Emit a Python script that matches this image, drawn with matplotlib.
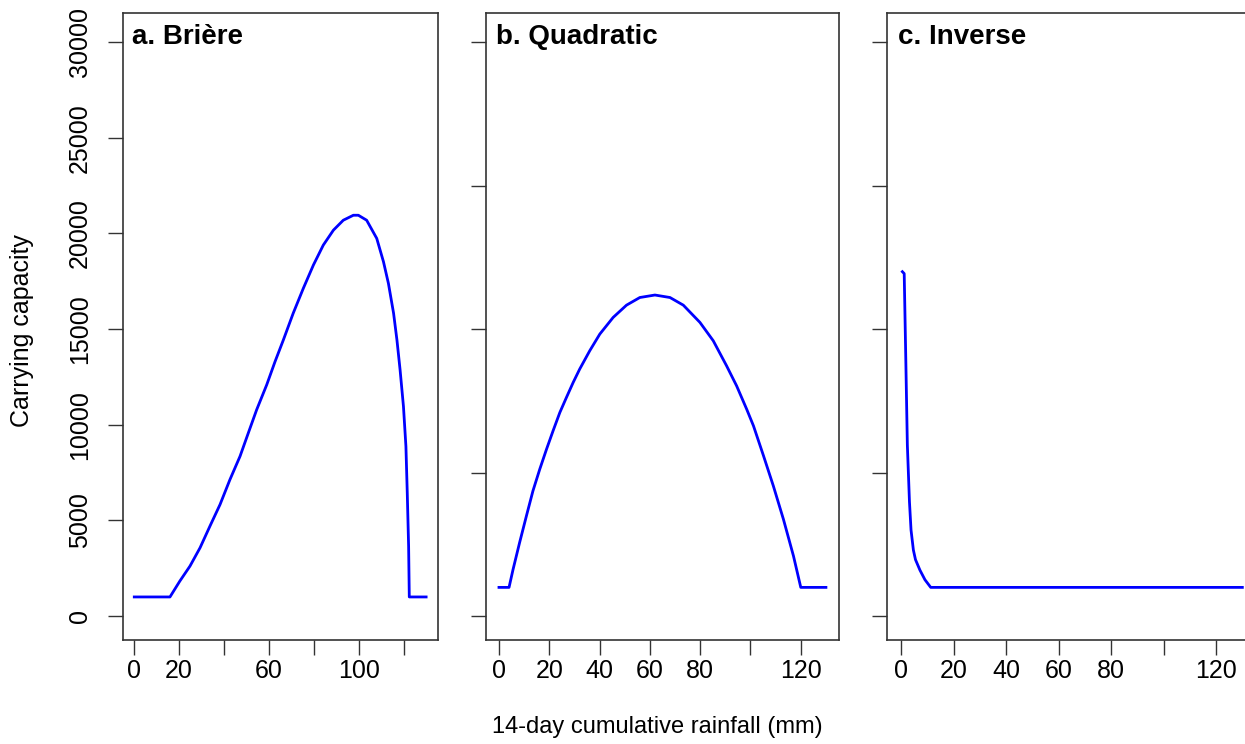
import numpy as np
import matplotlib
matplotlib.use("Agg")
import matplotlib.pyplot as plt

plt.rcParams['font.family'] = ['Liberation Sans', 'DejaVu Sans']

# a. Briere response
briere_x = [0, 15.9, 20.3, 24.8, 29.3, 33.7, 38.2, 42.6, 47.1, 50.8, 54.5, 59.0,
            62.7, 66.4, 70.8, 75.3, 79.8, 84.2, 88.7, 93.1, 97.6, 99.8, 103.5,
            108.0, 111.0, 113.2, 115.5, 117.0, 118.4, 119.9, 121.0, 121.6, 122.2,
            122.5, 130]
briere_k = [1000, 1000, 1830, 2610, 3570, 4700, 5830, 7130, 8350, 9570, 10780,
            12090, 13300, 14430, 15830, 17130, 18350, 19390, 20170, 20690, 20950,
            20950, 20690, 19740, 18520, 17390, 15830, 14430, 12870, 10960, 8870,
            6430, 3650, 1000, 1000]

# b. Quadratic response
quad_x = [0, 4.0, 5.6, 8.2, 10.9, 13.5, 16.2, 18.9, 21.5, 24.2, 26.8, 29.5, 32.1,
          36.1, 40.1, 45.4, 50.7, 56.0, 62.0, 68.0, 73.3, 79.9, 85.2, 90.5, 94.5,
          98.5, 101.2, 105.2, 109.1, 113.1, 117.1, 120.0, 130]
quad_k = [1500, 1500, 2440, 3840, 5230, 6540, 7670, 8720, 9680, 10640, 11420,
          12210, 12910, 13870, 14740, 15610, 16250, 16650, 16780, 16650, 16250,
          15350, 14390, 13080, 12030, 10810, 9940, 8370, 6800, 5060, 3140, 1500,
          1500]

# c. Inverse response
inv_x = [0.5, 1.2, 1.8, 2.4, 3.2, 3.8, 4.7, 5.5, 7.2, 9.1, 11.3, 130]
inv_k = [18000, 17900, 13470, 8940, 5980, 4500, 3450, 2950, 2400, 1900, 1500, 1500]

panel_titles = ["a. Brière", "b. Quadratic", "c. Inverse"]
x_ticks = [0, 20, 40, 60, 80, 100, 120]
x_labels = [["0", "20", "", "60", "", "100", ""],
            ["0", "20", "40", "60", "80", "", "120"],
            ["0", "20", "40", "60", "80", "", "120"]]
y_ticks_a = [0, 5000, 10000, 15000, 20000, 25000, 30000]
y_ticks_bc = [0, 7500, 15000, 22500, 30000]

W, H = 1245, 744
fig = plt.figure(figsize=(W / 100, H / 100), dpi=100)

# panel boxes in pixels (left, right)
boxes = [(122.6, 437.8), (485.9, 839.0), (887.4, 1256.0)]
top, bottom = 13, 640
series = [(briere_x, briere_k), (quad_x, quad_k), (inv_x, inv_k)]

frame_col = "#333333"
for i, ((l, r), (xs, ks)) in enumerate(zip(boxes, series)):
    ax = fig.add_axes([l / W, 1 - bottom / H, (r - l) / W, (bottom - top) / H])
    ax.plot(xs, ks, color="#0000ff", lw=2)
    ax.set_xlim(-5.2, 135.2)
    ax.set_ylim(-1250, 31520)
    ax.set_xticks(x_ticks)
    ax.set_xticklabels(x_labels[i])
    if i == 0:
        ax.set_yticks(y_ticks_a)
        ax.set_yticklabels([str(v) for v in y_ticks_a], rotation=90, va="center")
    else:
        ax.set_yticks(y_ticks_bc)
        ax.set_yticklabels([])
    ax.tick_params(direction="out", length=11, width=1, color=frame_col,
                   labelsize=18, pad=3)
    ax.tick_params(axis="y", pad=11)
    for s in ax.spines.values():
        s.set_color(frame_col)
        s.set_linewidth(1.2)
    ax.text(-1, 30250, panel_titles[i], fontsize=20, fontweight="bold",
            ha="left", va="center")

fig.text(22 / W, 1 - 331 / H, "Carrying capacity", fontsize=18,
         rotation=90, ha="center", va="center")
fig.text(657 / W, 1 - 727 / H, "14-day cumulative rainfall (mm)",
         fontsize=17, ha="center", va="center")

plt.savefig("out.png", dpi=100)
